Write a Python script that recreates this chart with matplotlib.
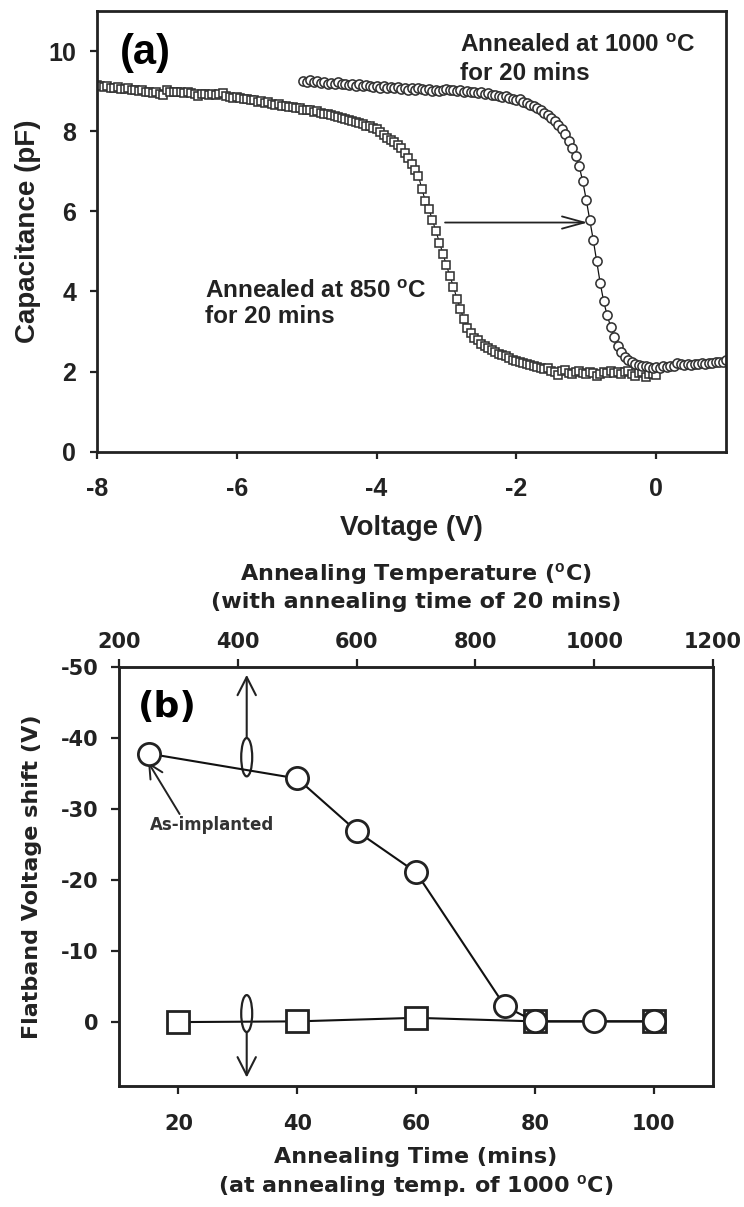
import numpy as np
import matplotlib.pyplot as plt
from matplotlib.patches import Ellipse

plt.rcParams['axes.unicode_minus'] = False
plt.rcParams['mathtext.fontset'] = 'custom'
plt.rcParams['mathtext.rm'] = 'Liberation Sans'
plt.rcParams['mathtext.bf'] = 'Liberation Sans:bold'

INK = '#222222'
FA = 'Liberation Sans'   # panel (a) text
FB = 'DejaVu Sans'       # panel (b) text (wider lettering)

# ---- (a) C-V sweeps, bias stepped by 0.05 V ----
v_step = 0.05
v850_start = -8.0
c850 = [
    9.15, 9.13, 9.11, 9.12, 9.09, 9.08, 9.10, 9.06, 9.05, 9.07,
    9.03, 9.04, 9.01, 9.03, 8.97, 8.99, 8.95, 8.97, 8.93, 8.90,
    9.02, 8.98, 8.99, 8.97, 8.99, 8.96, 8.98, 8.95, 8.93, 8.88,
    8.92, 8.94, 8.91, 8.93, 8.90, 8.92, 8.95, 8.89, 8.86, 8.84,
    8.86, 8.82, 8.80, 8.81, 8.77, 8.78, 8.74, 8.75, 8.71, 8.72,
    8.69, 8.66, 8.67, 8.63, 8.64, 8.60, 8.61, 8.57, 8.58, 8.54,
    8.52, 8.53, 8.49, 8.50, 8.46, 8.44, 8.42, 8.40, 8.38, 8.35,
    8.33, 8.30, 8.28, 8.25, 8.23, 8.20, 8.17, 8.14, 8.12, 8.08,
    8.05, 7.98, 7.90, 7.84, 7.78, 7.72, 7.66, 7.58, 7.45, 7.32,
    7.18, 7.02, 6.88, 6.55, 6.25, 6.05, 5.78, 5.50, 5.22, 4.94,
    4.65, 4.38, 4.12, 3.82, 3.56, 3.30, 3.10, 2.96, 2.85, 2.78,
    2.70, 2.64, 2.58, 2.53, 2.49, 2.45, 2.42, 2.38, 2.34, 2.30,
    2.27, 2.25, 2.22, 2.20, 2.17, 2.15, 2.12, 2.10, 2.06, 2.09,
    2.02, 1.98, 1.92, 2.01, 2.03, 1.97, 1.94, 1.99, 2.02, 1.96,
    1.93, 2.00, 1.96, 1.88, 1.95, 1.99, 1.97, 2.01, 1.96, 2.00,
    1.94, 1.98, 2.02, 1.95, 1.90, 1.97, 2.00, 1.86, 1.93, 1.95,
    1.92,
]
v1000_start = -5.05
c1000 = [
    9.25, 9.24, 9.27, 9.22, 9.25, 9.20, 9.23, 9.19, 9.21, 9.18,
    9.22, 9.17, 9.19, 9.15, 9.18, 9.14, 9.17, 9.12, 9.16, 9.13,
    9.10, 9.14, 9.09, 9.12, 9.08, 9.11, 9.07, 9.10, 9.06, 9.09,
    9.04, 9.08, 9.03, 9.07, 9.05, 9.02, 9.06, 9.01, 9.04, 9.00,
    9.03, 9.05, 9.02, 9.04, 9.00, 9.03, 8.99, 9.01, 8.97, 8.99,
    8.95, 8.97, 8.93, 8.95, 8.91, 8.90, 8.88, 8.86, 8.87, 8.83,
    8.81, 8.78, 8.80, 8.74, 8.70, 8.66, 8.62, 8.57, 8.52, 8.46,
    8.40, 8.33, 8.25, 8.16, 8.05, 7.92, 7.76, 7.58, 7.38, 7.12,
    6.75, 6.29, 5.79, 5.29, 4.75, 4.21, 3.75, 3.40, 3.12, 2.86,
    2.65, 2.48, 2.37, 2.30, 2.24, 2.20, 2.17, 2.15, 2.13, 2.12,
    2.10, 2.11, 2.10, 2.13, 2.12, 2.15, 2.14, 2.22, 2.18, 2.16,
    2.19, 2.17, 2.20, 2.18, 2.21, 2.19, 2.22, 2.21, 2.24, 2.23,
    2.25, 2.29,
]
v850 = np.round(v850_start + v_step * np.arange(len(c850)), 2)
v1000 = np.round(v1000_start + v_step * np.arange(len(c1000)), 2)

# ---- (b) flatband voltage shift ----
anneal_time = [20, 40, 60, 80, 100]
shift_vs_time = [0.0, -0.1, -0.6, -0.1, -0.1]
anneal_temp = [250, 500, 600, 700, 850, 900, 1000, 1100]
shift_vs_temp = [-37.8, -34.3, -26.9, -21.1, -2.2, -0.1, -0.1, -0.1]

fig = plt.figure(figsize=(7.44, 12.07), dpi=100)

# ================= panel (a) =================
axa = fig.add_axes([97 / 744, 1 - 451.7 / 1207, 629 / 744, 440.7 / 1207])
axa.plot(v850, c850, color='#111111', lw=0.8, marker='s', ms=6.3,
         mfc='white', mec='#333333', mew=1.15)
axa.plot(v1000, c1000, color='#111111', lw=0.9, marker='o', ms=6.6,
         mfc='white', mec='#333333', mew=1.15)
axa.set_xlim(-8, 1)
axa.set_ylim(0, 11)
axa.set_xticks([-8, -6, -4, -2, 0])
axa.set_yticks([0, 2, 4, 6, 8, 10])
for s in axa.spines.values():
    s.set_linewidth(2.0)
    s.set_color(INK)
axa.tick_params(direction='out', length=5, width=1.6, color=INK, pad=10,
                labelsize=18, labelcolor=INK)
axa.tick_params(axis='x', pad=13)
for lab in axa.get_xticklabels() + axa.get_yticklabels():
    lab.set_family(FA)
    lab.set_fontweight('bold')
axa.set_xlabel('Voltage (V)', family=FA, fontsize=20, fontweight='bold', color=INK)
axa.set_ylabel('Capacitance (pF)', family=FA, fontsize=20, fontweight='bold', color=INK)
axa.xaxis.label.set_va('center')
axa.yaxis.label.set_va('center')
axa.xaxis.set_label_coords(0.5, -0.172)
axa.yaxis.set_label_coords(-0.11, 0.5)

axa.text(-7.67, 9.67, '(a)', family=FA, fontsize=30, fontweight='bold',
         color='black', va='baseline')
axa.text(-2.81, 9.97, r'Annealed at 1000 $^{\mathbf{o}}$C', family=FA,
         fontsize=17.5, fontweight='bold', color=INK, va='baseline')
axa.text(-2.81, 9.29, 'for 20 mins', family=FA, fontsize=17.5,
         fontweight='bold', color=INK, va='baseline')
axa.text(-6.45, 3.84, r'Annealed at 850 $^{\mathbf{o}}$C', family=FA,
         fontsize=17.5, fontweight='bold', color=INK, va='baseline')
axa.text(-6.45, 3.22, 'for 20 mins', family=FA, fontsize=17.5,
         fontweight='bold', color=INK, va='baseline')
axa.annotate('', xy=(-0.98, 5.72), xytext=(-3.02, 5.72),
             arrowprops=dict(arrowstyle='->,head_length=0.8,head_width=0.22',
                             lw=1.3, color=INK, shrinkA=0, shrinkB=0,
                             mutation_scale=20))

# ================= panel (b) =================
axb = fig.add_axes([119 / 744, 1 - 1086 / 1207, 594 / 744, 419 / 1207])
axb.plot(anneal_time, shift_vs_time, color='#111111', lw=1.5, marker='s',
         ms=16, mfc='white', mec=INK, mew=2.0)
axb.set_xlim(10, 110)
axb.set_ylim(9, -50)
axb.set_xticks([20, 40, 60, 80, 100])
axb.set_yticks([-50, -40, -30, -20, -10, 0])

ax2 = axb.twiny()
ax2.plot(anneal_temp, shift_vs_temp, color='#111111', lw=1.5, marker='o',
         ms=16, mfc='white', mec=INK, mew=2.0)
ax2.set_xlim(200, 1200)
ax2.set_xticks([200, 400, 600, 800, 1000, 1200])

for ax in (axb, ax2):
    for s in ax.spines.values():
        s.set_linewidth(1.8)
        s.set_color(INK)
    ax.tick_params(direction='out', length=6, width=1.6, color=INK,
                   labelsize=15, labelcolor=INK)
    for lab in ax.get_xticklabels() + ax.get_yticklabels():
        lab.set_family(FB)
        lab.set_fontweight('bold')
axb.tick_params(axis='x', pad=14)
axb.tick_params(axis='y', pad=9)
ax2.tick_params(axis='x', pad=5)

axb.set_xlabel('Annealing Time (mins)\n(at annealing temp. of 1000 $^{\\mathbf{o}}$C)',
               family=FB, fontsize=16, fontweight='bold', color=INK, linespacing=1.3)
axb.xaxis.label.set_va('center')
axb.xaxis.set_label_coords(0.5, -0.207)
axb.set_ylabel('Flatband Voltage shift (V)', family=FB, fontsize=16,
               fontweight='bold', color=INK)
axb.yaxis.label.set_va('center')
axb.yaxis.set_label_coords(-0.146, 0.5)
ax2.set_xlabel('Annealing Temperature ($^{\\mathbf{o}}$C)\n(with annealing time of 20 mins)',
               family=FB, fontsize=16, fontweight='bold', color=INK, linespacing=1.3)
ax2.xaxis.label.set_va('center')
ax2.xaxis.set_label_coords(0.5, 1.193)

axb.text(13.2, -42.9, '(b)', family=FB, fontsize=26, fontweight='bold',
         color='black', va='baseline')
axb.text(15.2, -27.05, 'As-implanted', family=FB, fontsize=12,
         fontweight='bold', color='#333333', va='baseline')
axb.annotate('', xy=(14.9, -36.6), xytext=(20.2, -29.3),
             arrowprops=dict(arrowstyle='->,head_length=0.5,head_width=0.25',
                             lw=1.4, color=INK, shrinkA=0, shrinkB=0,
                             mutation_scale=20))

# direction markers: ellipse with arrow pointing to the relevant axis
axb.add_patch(Ellipse((31.5, -37.3), 1.85, 5.4, fill=False, lw=1.6, ec=INK, zorder=3))
axb.add_patch(Ellipse((31.5, -1.2), 1.85, 5.2, fill=False, lw=1.6, ec=INK, zorder=3))
axb.annotate('', xy=(31.5, -48.9), xytext=(31.5, -40.0),
             arrowprops=dict(arrowstyle='->,head_length=0.65,head_width=0.33',
                             lw=1.5, color=INK, shrinkA=0, shrinkB=0,
                             mutation_scale=20))
axb.annotate('', xy=(31.5, 7.8), xytext=(31.5, 1.4),
             arrowprops=dict(arrowstyle='->,head_length=0.65,head_width=0.33',
                             lw=1.5, color=INK, shrinkA=0, shrinkB=0,
                             mutation_scale=20))

fig.savefig('out.png', dpi=100)
